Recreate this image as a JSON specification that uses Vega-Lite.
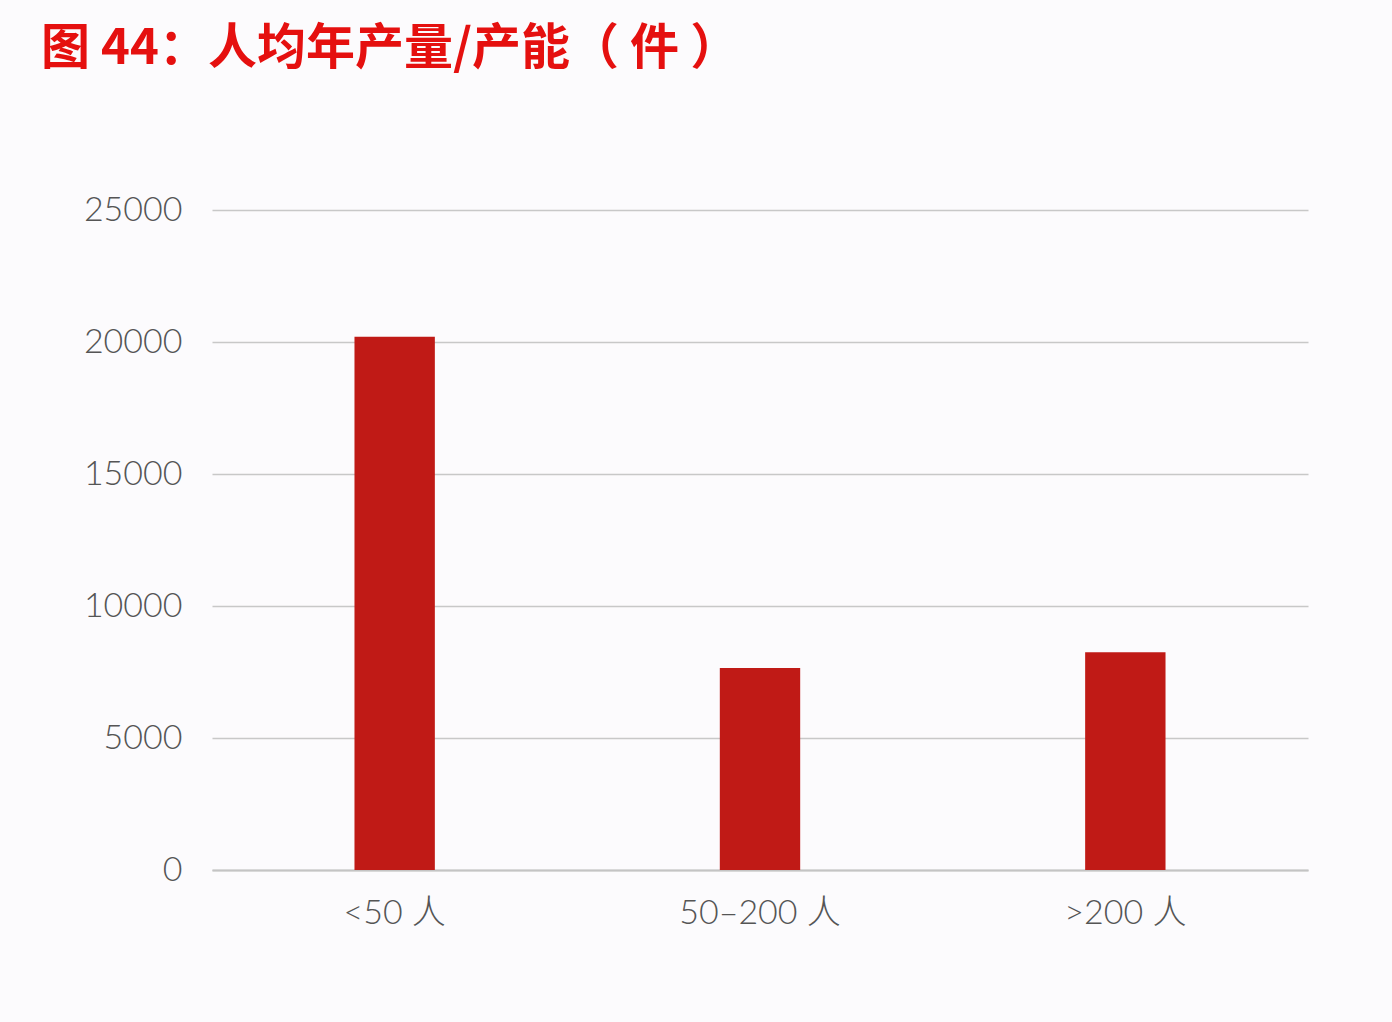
{
  "$schema": "https://vega.github.io/schema/vega-lite/v6.json",
  "width": 1096,
  "height": 660,
  "autosize": {"type": "none"},
  "padding": {"left": 212, "top": 210, "right": 84, "bottom": 152},
  "background": "#fcfbfd",
  "title": {
    "text": "图 44：人均年产量/产能（ 件 ）",
    "anchor": "start",
    "frame": "group",
    "dx": -171,
    "offset": 119,
    "font": "Noto Sans CJK SC",
    "fontSize": 49,
    "fontWeight": "bold",
    "color": "#e5100f"
  },
  "data": {
    "values": [
      {"group": "<50 人", "value": 20200},
      {"group": "50–200 人", "value": 7650},
      {"group": ">200 人", "value": 8250}
    ]
  },
  "mark": {"type": "bar", "color": "#c01a16"},
  "encoding": {
    "x": {
      "field": "group",
      "type": "nominal",
      "sort": null,
      "scale": {"paddingInner": 0.78, "paddingOuter": 0.39},
      "axis": {
        "title": null,
        "labelAngle": 0,
        "ticks": false,
        "domain": true,
        "domainColor": "#c4c4c4",
        "domainWidth": 2,
        "labelPadding": 26,
        "labelFontSize": 34,
        "labelFont": "Lato, 'Noto Sans CJK SC'",
        "labelFontWeight": 300,
        "labelColor": "#555555"
      }
    },
    "y": {
      "field": "value",
      "type": "quantitative",
      "scale": {"domain": [0, 25000]},
      "axis": {
        "title": null,
        "values": [0, 5000, 10000, 15000, 20000, 25000],
        "format": "d",
        "ticks": false,
        "domain": false,
        "grid": true,
        "gridColor": "#c8c8c8",
        "gridWidth": 1.5,
        "labelPadding": 30,
        "labelFontSize": 34,
        "labelFont": "Lato",
        "labelFontWeight": 300,
        "labelColor": "#555555"
      }
    }
  },
  "config": {
    "view": {"stroke": null}
  }
}
